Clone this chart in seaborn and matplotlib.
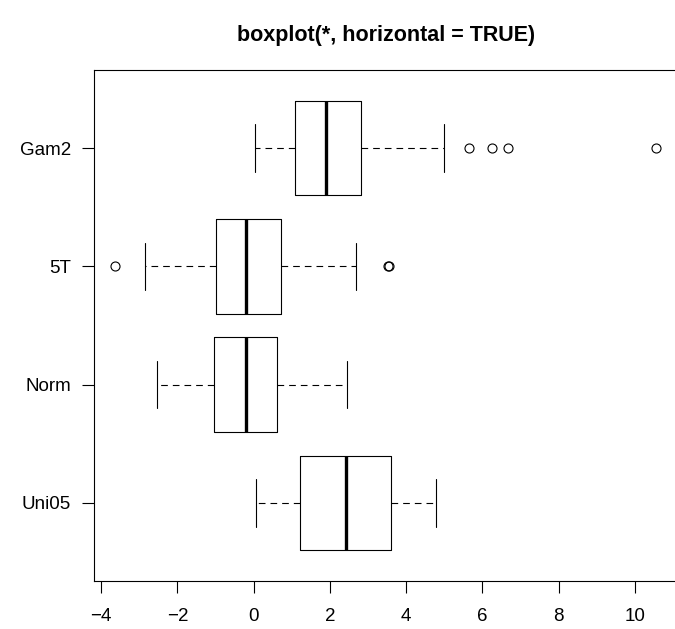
import numpy as np
import pandas as pd
import matplotlib
matplotlib.use("Agg")
import matplotlib.pyplot as plt
import seaborn as sns

# groups, top to bottom as drawn
groups = ["Gam2", "5T", "Norm", "Uni05"]

# five-number summaries: low whisker, Q1, median, Q3, high whisker
whisk_lo = [0.04, -2.85, -2.53, 0.05]
q1 = [1.09, -1.00, -1.03, 1.22]
median = [1.90, -0.21, -0.20, 2.41]
q3 = [2.82, 0.72, 0.61, 3.59]
whisk_hi = [4.99, 2.69, 2.44, 4.77]

# outliers per group
outliers = [
    [5.64, 6.25, 6.67, 10.56],
    [-3.63, 3.52, 3.55],
    [],
    [],
]

# rebuild a sample per group that gives exactly those statistics
rows = []
for g, lo, a, m, b, hi, out in zip(groups, whisk_lo, q1, median, q3, whisk_hi, outliers):
    vals = [lo, hi] + [a] * 20 + [m] * 20 + [b] * 20 + list(out)
    for v in vals:
        rows.append({"group": g, "value": v})
df = pd.DataFrame(rows)

sns.set_style("white")
plt.rcParams["font.family"] = ["Liberation Sans", "DejaVu Sans"]
plt.rcParams["text.color"] = "black"

fig = plt.figure(figsize=(6.75, 6.29), dpi=100)
ax = fig.add_axes([0.1388, 0.0763, 1.0044 - 0.1388, 0.8887 - 0.0763])

sns.boxplot(data=df, x="value", y="group", order=groups, orient="y",
            fill=False, color="black", width=0.8, whis=1.5, linewidth=0.8,
            medianprops=dict(linewidth=2.4, color="black"),
            whiskerprops=dict(linestyle=(0, (6, 4.5)), linewidth=0.8, color="black"),
            capprops=dict(linewidth=0.8, color="black"),
            boxprops=dict(linewidth=0.8, color="black"),
            flierprops=dict(marker="o", markerfacecolor="none", markeredgecolor="black",
                            markersize=6.5, markeredgewidth=0.8),
            ax=ax)

lo_all = df["value"].min()
hi_all = df["value"].max()
pad = 0.04 * (hi_all - lo_all)
ax.set_xlim(lo_all - pad, hi_all + pad)
ax.set_ylim(3.66, -0.66)
ax.set_xticks([-4, -2, 0, 2, 4, 6, 8, 10])
ax.set_xlabel("")
ax.set_ylabel("")

for s in ax.spines.values():
    s.set_visible(True)
    s.set_color("black")
    s.set_linewidth(0.8)
ax.tick_params(axis="both", direction="out", length=8.5, width=0.8, colors="black",
               labelsize=13.5, left=True, bottom=True)
ax.tick_params(axis="x", pad=11)
ax.tick_params(axis="y", pad=8)

fig.text(0.5718, 1 - 35 / 629, "boxplot(*, horizontal = TRUE)", fontsize=15.5,
         fontweight="bold", ha="center", va="center", color="black")

fig.savefig("out.png", dpi=100)
